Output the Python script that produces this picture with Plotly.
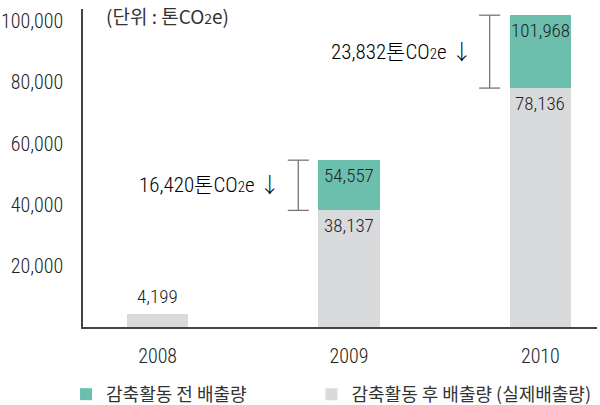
import plotly.graph_objects as go

# ---- data ----
years = ["2008", "2009", "2010"]
before = [None, 54557, 101968]   # 감축활동 전 배출량
after = [4199, 38137, 78136]     # 감축활동 후 배출량 (실제배출량)
y_ticks = [20000, 40000, 60000, 80000, 100000]
legend_before = "감축활동 전 배출량"
legend_after = "감축활동 후 배출량 (실제배출량)"
unit_label = "(단위 : 톤CO<span style='font-size:14px'>2</span>e)"

GREEN = "#6cbfad"
GRAY = "#d9dadc"
NARROW = "Roboto Condensed, Noto Sans CJK KR, sans-serif"
KR = "Noto Sans CJK KR, Noto Sans, sans-serif"
BW = 0.32

x = list(range(len(years)))
reduction = [(b - a) if b is not None else None for b, a in zip(before, after)]

fig = go.Figure()
fig.add_bar(x=x, y=after, name=legend_after, marker_color=GRAY, width=BW,
            legend="legend2", marker_line_width=0, hoverinfo="skip")
fig.add_bar(x=x, y=reduction, name=legend_before, marker_color=GREEN, width=BW,
            legend="legend", marker_line_width=0, hoverinfo="skip")

lab_font = dict(family=NARROW, size=19, color="#222", weight=300)
annotations = []
shapes = []
for i, (b, a) in enumerate(zip(before, after)):
    if b is None:
        annotations.append(dict(x=i, y=a, yshift=18, text=f"{a:,}", showarrow=False, font=lab_font))
        continue
    annotations.append(dict(x=i, y=a, yshift=-15, text=f"{a:,}", showarrow=False, font=lab_font))
    annotations.append(dict(x=i, y=b, yshift=-15, text=f"{b:,}", showarrow=False, font=lab_font))
    xb = i - BW / 2 - 0.105
    cap = 0.055
    line = dict(color="#777", width=1.3)
    shapes.append(dict(type="line", x0=xb, x1=xb, y0=a, y1=b, xref="x", yref="y", line=line))
    shapes.append(dict(type="line", x0=xb - cap, x1=xb + cap, y0=a, y1=a, xref="x", yref="y", line=line))
    shapes.append(dict(type="line", x0=xb - cap, x1=xb + cap, y0=b, y1=b, xref="x", yref="y", line=line))
    annotations.append(dict(x=xb, xshift=-16, xanchor="right", y=(a + b) / 2, showarrow=False,
                            text=f"{b - a:,}톤CO<span style='font-size:15px'>2</span>e ↓",
                            font=dict(family=NARROW, size=21, color="#000", weight=300)))

annotations.append(dict(xref="paper", yref="paper", x=0.04, y=0.981, xanchor="left",
                        yanchor="middle", showarrow=False, text=unit_label,
                        font=dict(family=KR, size=19, color="#333")))

leg_common = dict(orientation="h", y=-0.154, xanchor="left", yanchor="top",
                  font=dict(family=KR, size=18, color="#333"), itemwidth=30,
                  bgcolor="rgba(0,0,0,0)")

fig.update_layout(
    width=600, height=405,
    margin=dict(l=83, r=3, t=9, b=78, autoexpand=False),
    paper_bgcolor="white", plot_bgcolor="white",
    barmode="stack",
    showlegend=True,
    legend=dict(x=-0.033, **leg_common),
    legend2=dict(x=0.4445, **leg_common),
    annotations=annotations,
    shapes=shapes,
    xaxis=dict(range=[-0.39, 2.296], tickvals=x, ticktext=years, showline=True,
               linecolor="#444", linewidth=2, ticks="outside", ticklen=10,
               tickcolor="rgba(0,0,0,0)", showgrid=False, zeroline=False,
               tickfont=dict(family=NARROW, size=20, color="#222", weight=300)),
    yaxis=dict(range=[0, 104000], tickvals=y_ticks, tickformat=",", showline=True,
               linecolor="#444", linewidth=1.5, ticks="outside", ticklen=14,
               tickcolor="rgba(0,0,0,0)", showgrid=False, zeroline=False,
               tickfont=dict(family=NARROW, size=20, color="#222", weight=300)),
)

fig.write_html("out.html")
